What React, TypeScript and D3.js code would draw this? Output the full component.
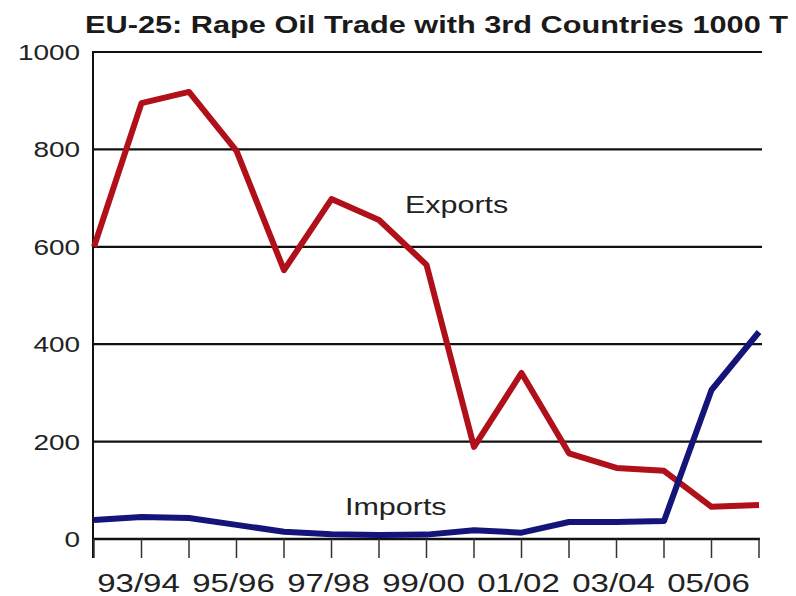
import React from "react";
import * as d3 from "d3";

const seasons = ["92/93","93/94","94/95","95/96","96/97","97/98","98/99","99/00","00/01","01/02","02/03","03/04","04/05","05/06","06/07"];
const exportsT = [600, 895, 918, 797, 552, 698, 655, 563, 189, 341, 176, 146, 140, 66, 70];
const importsT = [39, 45, 43, 29, 15, 10, 8, 9, 18, 13, 35, 35, 37, 306, 425];
const yTicks = [0, 200, 400, 600, 800, 1000];
const shownLabels = ["93/94","95/96","97/98","99/00","01/02","03/04","05/06"];

export default function App() {
  const W = 796, H = 596;
  const left = 94, right = 759, top = 52, bottom = 539, frameRight = 762;
  const x = d3.scalePoint<string>().domain(seasons).range([left, right]);
  const y = d3.scaleLinear().domain([0, 1000]).range([bottom, top]);
  const lineE = d3.line<number>().x((_, i) => x(seasons[i])!).y(d => y(d));
  const lineI = d3.line<number>().x((_, i) => x(seasons[i])!).y(d => y(d));
  const font = "'Liberation Sans', Arial, sans-serif";
  const sx = 1.27;
  return (
    <svg width={W} height={H} style={{ position: "absolute", left: 0, top: 0, background: "#fff" }} fontFamily={font}>
      <rect width={W} height={H} fill="#fff" />
      <text x={85} y={33} fontSize={24} fontWeight="bold" fill="#1a1a1a" textLength={703} lengthAdjust="spacingAndGlyphs">
        EU-25: Rape Oil Trade with 3rd Countries 1000 T
      </text>
      {yTicks.filter(t => t > 0).map(t => (
        <line key={"g" + t} x1={left - 1} x2={frameRight} y1={y(t)} y2={y(t)} stroke="#111" strokeWidth={2.2} />
      ))}
      <line x1={left - 1} x2={frameRight} y1={y(1000)} y2={y(1000)} stroke="#111" strokeWidth={2.2} />
      {yTicks.map(t => (
        <g key={"yl" + t} transform={`translate(80,${y(t)}) scale(${sx},1)`}>
          <text x={0} y={0} dy="0.36em" textAnchor="end" fontSize={22} fill="#222">{t}</text>
        </g>
      ))}
      <line x1={left - 1} x2={left - 1} y1={top - 1} y2={558} stroke="#111" strokeWidth={2} />
      <line x1={left - 1} x2={right + 1} y1={bottom} y2={bottom} stroke="#111" strokeWidth={2.5} />
      {seasons.map(s => (
        <line key={"t" + s} x1={x(s)} x2={x(s)} y1={bottom} y2={558} stroke="#333" strokeWidth={1.5} />
      ))}
      {shownLabels.map(s => (
        <g key={"xl" + s} transform={`translate(${x(s)! - 3},592) scale(${sx},1)`}>
          <text x={0} y={0} textAnchor="middle" fontSize={26} fill="#222">{s}</text>
        </g>
      ))}
      <path d={lineE(exportsT)!} fill="none" stroke="#B0101A" strokeWidth={6} strokeLinejoin="round" />
      <path d={lineI(importsT)!} fill="none" stroke="#14147A" strokeWidth={6} strokeLinejoin="round" />
      <g transform={`translate(405,213) scale(${sx},1)`}>
        <text x={0} y={0} fontSize={24} fill="#222">Exports</text>
      </g>
      <g transform={`translate(345,515) scale(${sx},1)`}>
        <text x={0} y={0} fontSize={24} fill="#222">Imports</text>
      </g>
    </svg>
  );
}
